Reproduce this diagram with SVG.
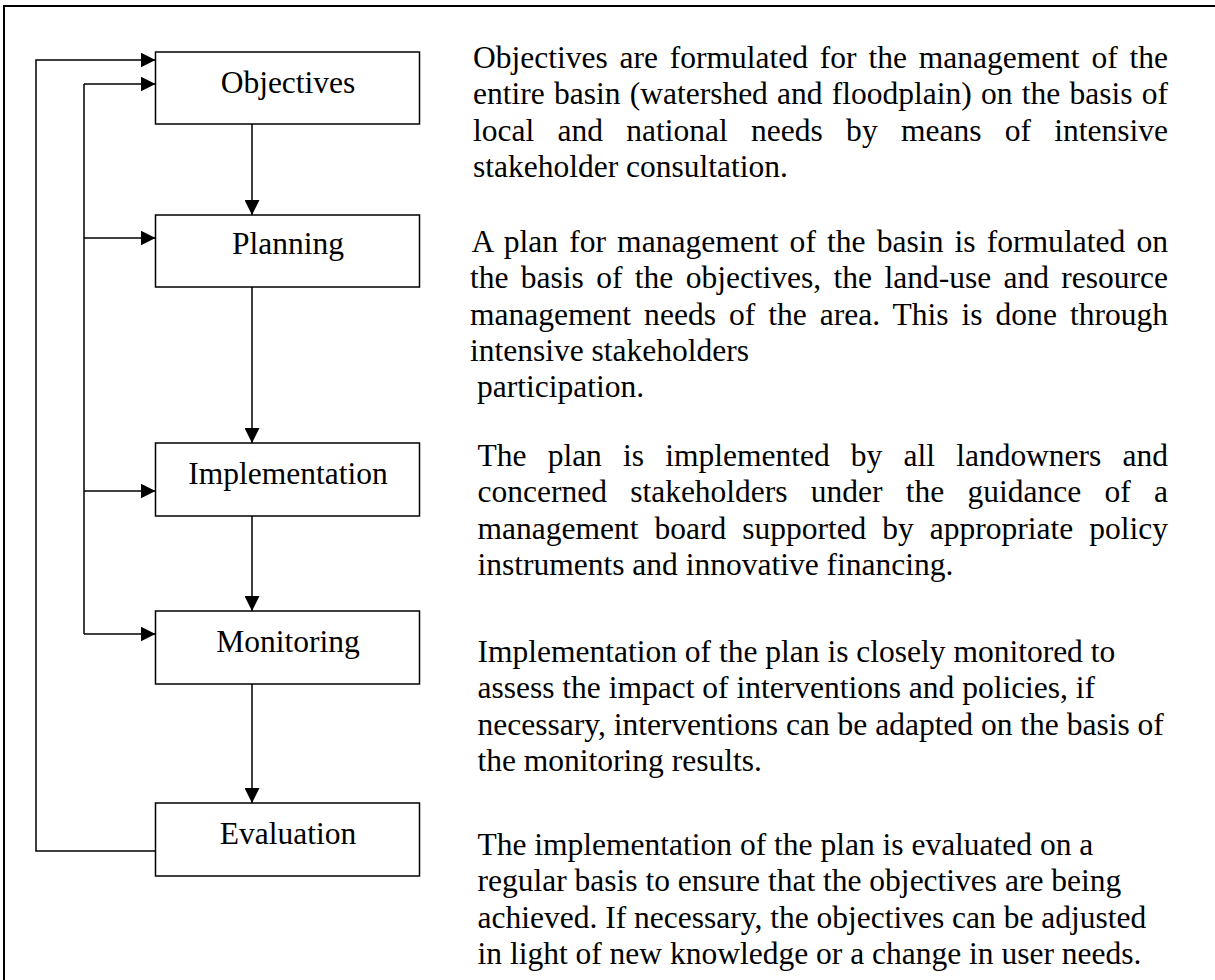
<svg xmlns="http://www.w3.org/2000/svg" width="1215" height="980" viewBox="0 0 1215 980">
  <style>
    .frame { fill: none; stroke: #000; stroke-width: 2; }
    .box { fill: #fff; stroke: #000; stroke-width: 1.5; }
    .label { font-family: "Liberation Serif", "Times New Roman", serif; font-size: 31.5px; fill: #000; text-anchor: middle; }
    .body { font-family: "Liberation Serif", "Times New Roman", serif; font-size: 31.5px; fill: #000; }
    .wire { fill: none; stroke: #000; stroke-width: 1.5; }
  </style>
  <defs>
    <marker id="arrow" viewBox="0 0 15 15" refX="15" refY="7.5" markerWidth="15" markerHeight="15" markerUnits="userSpaceOnUse" orient="auto">
      <path d="M0,0 L15,7.5 L0,15 Z" fill="#000"/>
    </marker>
  </defs>

  <rect width="1215" height="980" fill="#fff"/>
  <!-- outer frame, runs past the right and bottom edges -->
  <rect class="frame" x="4" y="6" width="1230" height="1000"/>

  <!-- connectors -->
  <g id="connectors">
    <line class="wire" x1="252" y1="124" x2="252" y2="215" marker-end="url(#arrow)"/>
    <line class="wire" x1="252" y1="287" x2="252" y2="443" marker-end="url(#arrow)"/>
    <line class="wire" x1="252" y1="516" x2="252" y2="611" marker-end="url(#arrow)"/>
    <line class="wire" x1="252" y1="684" x2="252" y2="803" marker-end="url(#arrow)"/>
    <!-- evaluation feeds back to objectives -->
    <polyline class="wire" points="155.5,851 36,851 36,60 155.5,60" marker-end="url(#arrow)"/>
    <!-- inner feedback bus -->
    <line class="wire" x1="84" y1="84" x2="84" y2="634"/>
    <line class="wire" x1="84" y1="84" x2="155.5" y2="84" marker-end="url(#arrow)"/>
    <line class="wire" x1="84" y1="238" x2="155.5" y2="238" marker-end="url(#arrow)"/>
    <line class="wire" x1="84" y1="491" x2="155.5" y2="491" marker-end="url(#arrow)"/>
    <line class="wire" x1="84" y1="634" x2="155.5" y2="634" marker-end="url(#arrow)"/>
  </g>

  <g id="objectives">
    <rect class="box" x="155.5" y="52" width="264" height="72"/>
    <text class="label" x="288" y="93">Objectives</text>
  </g>
  <g id="planning">
    <rect class="box" x="155.5" y="215" width="264" height="72"/>
    <text class="label" x="288" y="254">Planning</text>
  </g>
  <g id="implementation">
    <rect class="box" x="155.5" y="443" width="264" height="73"/>
    <text class="label" x="288" y="484">Implementation</text>
  </g>
  <g id="monitoring">
    <rect class="box" x="155.5" y="611" width="264" height="73"/>
    <text class="label" x="288" y="652">Monitoring</text>
  </g>
  <g id="evaluation">
    <rect class="box" x="155.5" y="803" width="264" height="73"/>
    <text class="label" x="288" y="844">Evaluation</text>
  </g>

  <!-- descriptions -->
  <g id="desc-objectives" class="body">
    <text class="body" x="473" y="68" word-spacing="3.95" textLength="695" lengthAdjust="spacingAndGlyphs">Objectives are formulated for the management of the</text>
    <text class="body" x="473" y="104" word-spacing="1.36" textLength="695" lengthAdjust="spacingAndGlyphs">entire basin (watershed and floodplain) on the basis of</text>
    <text class="body" x="473" y="141" word-spacing="15.4" textLength="695" lengthAdjust="spacingAndGlyphs">local and national needs by means of intensive</text>
    <text class="body" x="473" y="177">stakeholder consultation.</text>
  </g>
  <g id="desc-planning">
    <text class="body" x="471.5" y="252" word-spacing="3.2" textLength="696.5" lengthAdjust="spacingAndGlyphs">A plan for management of the basin is formulated on</text>
    <text class="body" x="470" y="288" word-spacing="4.5" textLength="698" lengthAdjust="spacingAndGlyphs">the basis of the objectives, the land-use and resource</text>
    <text class="body" x="470" y="325" word-spacing="5.1" textLength="698" lengthAdjust="spacingAndGlyphs">management needs of the area. This is done through</text>
    <text class="body" x="470" y="361">intensive stakeholders</text>
    <text class="body" x="477" y="397">participation.</text>
  </g>
  <g id="desc-implementation">
    <text class="body" x="477.5" y="466" word-spacing="13.3" textLength="690.5" lengthAdjust="spacingAndGlyphs">The plan is implemented by all landowners and</text>
    <text class="body" x="477.5" y="502" word-spacing="15.4" textLength="690.5" lengthAdjust="spacingAndGlyphs">concerned stakeholders under the guidance of a</text>
    <text class="body" x="477.5" y="539" word-spacing="8.1" textLength="690.5" lengthAdjust="spacingAndGlyphs">management board supported by appropriate policy</text>
    <text class="body" x="477.5" y="575">instruments and innovative financing.</text>
  </g>
  <g id="desc-monitoring">
    <text class="body" x="477.5" y="662">Implementation of the plan is closely monitored to</text>
    <text class="body" x="477.5" y="698">assess the impact of interventions and policies, if</text>
    <text class="body" x="477.5" y="735">necessary, interventions can be adapted on the basis of</text>
    <text class="body" x="477.5" y="771">the monitoring results.</text>
  </g>
  <g id="desc-evaluation">
    <text class="body" x="477.5" y="855">The implementation of the plan is evaluated on a</text>
    <text class="body" x="477.5" y="891">regular basis to ensure that the objectives are being</text>
    <text class="body" x="477.5" y="928">achieved. If necessary, the objectives can be adjusted</text>
    <text class="body" x="477.5" y="964">in light of new knowledge or a change in user needs.</text>
  </g>
</svg>
